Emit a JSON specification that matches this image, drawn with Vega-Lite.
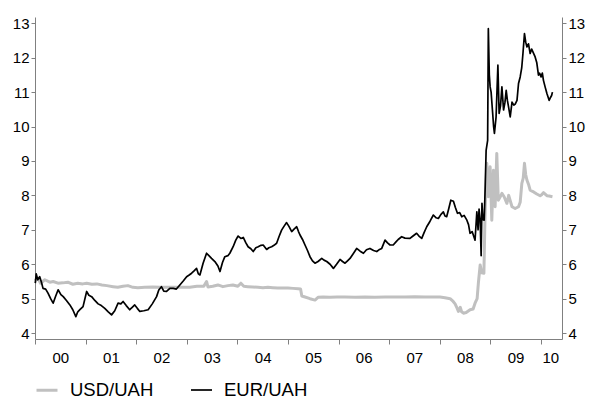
{
"$schema":"https://vega.github.io/schema/vega-lite/v6.json",
"width":527,"height":322,
"autosize":{"type":"none"},
"padding":{"left":35,"top":17,"right":31,"bottom":69},
"config":{"view":{"stroke":null},"font":"Liberation Sans"},
"data":{"values":[
{"d":"2000-01-03","s":"USD/UAH","v":5.52},{"d":"2000-01-21","s":"USD/UAH","v":5.6},{"d":"2000-02-10","s":"USD/UAH","v":5.45},{"d":"2000-03-12","s":"USD/UAH","v":5.55},{"d":"2000-04-17","s":"USD/UAH","v":5.48},{"d":"2000-05-11","s":"USD/UAH","v":5.5},{"d":"2000-06-15","s":"USD/UAH","v":5.45},{"d":"2000-07-20","s":"USD/UAH","v":5.46},{"d":"2000-08-25","s":"USD/UAH","v":5.48},{"d":"2000-09-30","s":"USD/UAH","v":5.42},{"d":"2000-11-05","s":"USD/UAH","v":5.45},{"d":"2000-12-11","s":"USD/UAH","v":5.43},
{"d":"2001-01-08","s":"USD/UAH","v":5.45},{"d":"2001-02-15","s":"USD/UAH","v":5.42},{"d":"2001-03-23","s":"USD/UAH","v":5.43},{"d":"2001-04-28","s":"USD/UAH","v":5.4},{"d":"2001-06-03","s":"USD/UAH","v":5.38},{"d":"2001-07-18","s":"USD/UAH","v":5.35},{"d":"2001-08-21","s":"USD/UAH","v":5.33},{"d":"2001-09-27","s":"USD/UAH","v":5.36},{"d":"2001-11-02","s":"USD/UAH","v":5.38},{"d":"2001-12-08","s":"USD/UAH","v":5.33},
{"d":"2002-01-13","s":"USD/UAH","v":5.32},{"d":"2002-03-04","s":"USD/UAH","v":5.33},{"d":"2002-05-01","s":"USD/UAH","v":5.34},{"d":"2002-06-20","s":"USD/UAH","v":5.33},{"d":"2002-08-10","s":"USD/UAH","v":5.33},{"d":"2002-10-07","s":"USD/UAH","v":5.33},{"d":"2002-12-03","s":"USD/UAH","v":5.33},
{"d":"2003-01-23","s":"USD/UAH","v":5.33},{"d":"2003-03-15","s":"USD/UAH","v":5.36},{"d":"2003-05-04","s":"USD/UAH","v":5.36},{"d":"2003-05-24","s":"USD/UAH","v":5.5},{"d":"2003-06-03","s":"USD/UAH","v":5.34},{"d":"2003-07-08","s":"USD/UAH","v":5.36},{"d":"2003-08-14","s":"USD/UAH","v":5.4},{"d":"2003-09-19","s":"USD/UAH","v":5.35},{"d":"2003-10-25","s":"USD/UAH","v":5.38},{"d":"2003-11-30","s":"USD/UAH","v":5.4},
{"d":"2004-01-05","s":"USD/UAH","v":5.36},{"d":"2004-01-27","s":"USD/UAH","v":5.45},{"d":"2004-02-17","s":"USD/UAH","v":5.36},{"d":"2004-03-17","s":"USD/UAH","v":5.35},{"d":"2004-04-22","s":"USD/UAH","v":5.34},{"d":"2004-05-29","s":"USD/UAH","v":5.33},{"d":"2004-07-04","s":"USD/UAH","v":5.32},{"d":"2004-08-09","s":"USD/UAH","v":5.33},{"d":"2004-09-14","s":"USD/UAH","v":5.32},{"d":"2004-10-20","s":"USD/UAH","v":5.31},{"d":"2004-11-25","s":"USD/UAH","v":5.31},
{"d":"2005-01-01","s":"USD/UAH","v":5.31},{"d":"2005-02-07","s":"USD/UAH","v":5.3},{"d":"2005-03-15","s":"USD/UAH","v":5.29},{"d":"2005-04-02","s":"USD/UAH","v":5.28},{"d":"2005-04-11","s":"USD/UAH","v":5.08},{"d":"2005-05-04","s":"USD/UAH","v":5.05},{"d":"2005-06-09","s":"USD/UAH","v":5.0},{"d":"2005-07-15","s":"USD/UAH","v":4.96},{"d":"2005-08-06","s":"USD/UAH","v":5.04},{"d":"2005-09-11","s":"USD/UAH","v":5.05},{"d":"2005-11-01","s":"USD/UAH","v":5.04},{"d":"2005-12-21","s":"USD/UAH","v":5.05},
{"d":"2006-02-17","s":"USD/UAH","v":5.05},{"d":"2006-04-30","s":"USD/UAH","v":5.04},{"d":"2006-07-11","s":"USD/UAH","v":5.05},{"d":"2006-09-21","s":"USD/UAH","v":5.04},{"d":"2006-12-03","s":"USD/UAH","v":5.05},
{"d":"2007-02-13","s":"USD/UAH","v":5.05},{"d":"2007-04-26","s":"USD/UAH","v":5.05},{"d":"2007-07-07","s":"USD/UAH","v":5.06},{"d":"2007-09-18","s":"USD/UAH","v":5.05},{"d":"2007-11-29","s":"USD/UAH","v":5.05},
{"d":"2008-01-04","s":"USD/UAH","v":5.05},{"d":"2008-02-09","s":"USD/UAH","v":5.03},{"d":"2008-03-17","s":"USD/UAH","v":5.0},{"d":"2008-04-08","s":"USD/UAH","v":4.92},{"d":"2008-04-22","s":"USD/UAH","v":4.85},{"d":"2008-05-07","s":"USD/UAH","v":4.72},{"d":"2008-05-16","s":"USD/UAH","v":4.63},{"d":"2008-05-29","s":"USD/UAH","v":4.75},{"d":"2008-06-08","s":"USD/UAH","v":4.62},{"d":"2008-06-21","s":"USD/UAH","v":4.58},{"d":"2008-07-11","s":"USD/UAH","v":4.6},{"d":"2008-08-08","s":"USD/UAH","v":4.68},{"d":"2008-08-30","s":"USD/UAH","v":4.7},{"d":"2008-09-13","s":"USD/UAH","v":4.87},{"d":"2008-09-28","s":"USD/UAH","v":5.0},{"d":"2008-10-07","s":"USD/UAH","v":5.45},{"d":"2008-10-20","s":"USD/UAH","v":5.98},{"d":"2008-10-31","s":"USD/UAH","v":5.75},{"d":"2008-11-16","s":"USD/UAH","v":5.74},{"d":"2008-11-22","s":"USD/UAH","v":7.0},{"d":"2008-11-25","s":"USD/UAH","v":7.57},{"d":"2008-12-07","s":"USD/UAH","v":8.93},{"d":"2008-12-18","s":"USD/UAH","v":7.96},{"d":"2008-12-31","s":"USD/UAH","v":8.83},
{"d":"2009-01-12","s":"USD/UAH","v":7.28},{"d":"2009-01-24","s":"USD/UAH","v":8.73},{"d":"2009-02-05","s":"USD/UAH","v":7.67},{"d":"2009-02-17","s":"USD/UAH","v":9.22},{"d":"2009-02-28","s":"USD/UAH","v":7.86},{"d":"2009-03-13","s":"USD/UAH","v":7.95},{"d":"2009-03-26","s":"USD/UAH","v":8.06},{"d":"2009-04-11","s":"USD/UAH","v":7.96},{"d":"2009-05-01","s":"USD/UAH","v":7.77},{"d":"2009-05-14","s":"USD/UAH","v":8.0},{"d":"2009-05-25","s":"USD/UAH","v":7.85},{"d":"2009-06-07","s":"USD/UAH","v":7.67},{"d":"2009-06-30","s":"USD/UAH","v":7.62},{"d":"2009-07-24","s":"USD/UAH","v":7.67},{"d":"2009-08-05","s":"USD/UAH","v":7.8},{"d":"2009-08-17","s":"USD/UAH","v":8.35},{"d":"2009-08-27","s":"USD/UAH","v":8.5},{"d":"2009-09-05","s":"USD/UAH","v":8.93},{"d":"2009-09-14","s":"USD/UAH","v":8.6},{"d":"2009-09-23","s":"USD/UAH","v":8.44},{"d":"2009-10-06","s":"USD/UAH","v":8.3},{"d":"2009-10-16","s":"USD/UAH","v":8.15},{"d":"2009-11-10","s":"USD/UAH","v":8.1},{"d":"2009-12-03","s":"USD/UAH","v":8.04},{"d":"2009-12-27","s":"USD/UAH","v":7.99},
{"d":"2010-01-07","s":"USD/UAH","v":8.02},{"d":"2010-01-20","s":"USD/UAH","v":8.08},{"d":"2010-02-14","s":"USD/UAH","v":7.99},{"d":"2010-03-02","s":"USD/UAH","v":7.98},{"d":"2010-03-26","s":"USD/UAH","v":7.96},
{"d":"2000-01-03","s":"EUR/UAH","v":5.45},{"d":"2000-01-10","s":"EUR/UAH","v":5.72},{"d":"2000-01-21","s":"EUR/UAH","v":5.55},{"d":"2000-02-04","s":"EUR/UAH","v":5.64},{"d":"2000-02-15","s":"EUR/UAH","v":5.5},{"d":"2000-02-28","s":"EUR/UAH","v":5.3},{"d":"2000-03-18","s":"EUR/UAH","v":5.28},{"d":"2000-04-04","s":"EUR/UAH","v":5.16},{"d":"2000-04-23","s":"EUR/UAH","v":5.0},{"d":"2000-05-11","s":"EUR/UAH","v":4.87},{"d":"2000-05-27","s":"EUR/UAH","v":5.05},{"d":"2000-06-16","s":"EUR/UAH","v":5.26},{"d":"2000-07-06","s":"EUR/UAH","v":5.12},{"d":"2000-07-23","s":"EUR/UAH","v":5.06},{"d":"2000-08-15","s":"EUR/UAH","v":4.95},{"d":"2000-09-09","s":"EUR/UAH","v":4.82},{"d":"2000-09-30","s":"EUR/UAH","v":4.68},{"d":"2000-10-22","s":"EUR/UAH","v":4.48},{"d":"2000-11-05","s":"EUR/UAH","v":4.62},{"d":"2000-11-20","s":"EUR/UAH","v":4.68},{"d":"2000-12-13","s":"EUR/UAH","v":4.77},
{"d":"2001-01-08","s":"EUR/UAH","v":5.21},{"d":"2001-01-24","s":"EUR/UAH","v":5.1},{"d":"2001-02-13","s":"EUR/UAH","v":5.06},{"d":"2001-03-08","s":"EUR/UAH","v":4.95},{"d":"2001-04-01","s":"EUR/UAH","v":4.85},{"d":"2001-04-24","s":"EUR/UAH","v":4.8},{"d":"2001-05-19","s":"EUR/UAH","v":4.72},{"d":"2001-06-13","s":"EUR/UAH","v":4.62},{"d":"2001-07-07","s":"EUR/UAH","v":4.53},{"d":"2001-07-30","s":"EUR/UAH","v":4.65},{"d":"2001-08-23","s":"EUR/UAH","v":4.87},{"d":"2001-09-12","s":"EUR/UAH","v":4.85},{"d":"2001-09-28","s":"EUR/UAH","v":4.92},{"d":"2001-10-21","s":"EUR/UAH","v":4.8},{"d":"2001-11-15","s":"EUR/UAH","v":4.68},{"d":"2001-12-03","s":"EUR/UAH","v":4.75},{"d":"2001-12-21","s":"EUR/UAH","v":4.82},
{"d":"2002-01-09","s":"EUR/UAH","v":4.72},{"d":"2002-01-27","s":"EUR/UAH","v":4.63},{"d":"2002-02-25","s":"EUR/UAH","v":4.65},{"d":"2002-03-28","s":"EUR/UAH","v":4.68},{"d":"2002-04-27","s":"EUR/UAH","v":4.85},{"d":"2002-05-28","s":"EUR/UAH","v":5.06},{"d":"2002-06-13","s":"EUR/UAH","v":5.25},{"d":"2002-07-02","s":"EUR/UAH","v":5.35},{"d":"2002-07-19","s":"EUR/UAH","v":5.22},{"d":"2002-08-08","s":"EUR/UAH","v":5.21},{"d":"2002-09-01","s":"EUR/UAH","v":5.3},{"d":"2002-09-25","s":"EUR/UAH","v":5.3},{"d":"2002-10-18","s":"EUR/UAH","v":5.28},{"d":"2002-11-12","s":"EUR/UAH","v":5.4},{"d":"2002-12-08","s":"EUR/UAH","v":5.52},{"d":"2002-12-31","s":"EUR/UAH","v":5.64},
{"d":"2003-01-16","s":"EUR/UAH","v":5.68},{"d":"2003-02-05","s":"EUR/UAH","v":5.74},{"d":"2003-02-21","s":"EUR/UAH","v":5.8},{"d":"2003-03-13","s":"EUR/UAH","v":5.88},{"d":"2003-03-26","s":"EUR/UAH","v":5.72},{"d":"2003-04-06","s":"EUR/UAH","v":5.69},{"d":"2003-04-29","s":"EUR/UAH","v":6.03},{"d":"2003-05-24","s":"EUR/UAH","v":6.32},{"d":"2003-06-10","s":"EUR/UAH","v":6.25},{"d":"2003-06-29","s":"EUR/UAH","v":6.17},{"d":"2003-07-23","s":"EUR/UAH","v":6.08},{"d":"2003-08-14","s":"EUR/UAH","v":5.95},{"d":"2003-08-29","s":"EUR/UAH","v":5.79},{"d":"2003-09-16","s":"EUR/UAH","v":6.05},{"d":"2003-10-03","s":"EUR/UAH","v":6.22},{"d":"2003-10-25","s":"EUR/UAH","v":6.25},{"d":"2003-11-08","s":"EUR/UAH","v":6.32},{"d":"2003-12-02","s":"EUR/UAH","v":6.51},{"d":"2003-12-21","s":"EUR/UAH","v":6.7},
{"d":"2004-01-07","s":"EUR/UAH","v":6.82},{"d":"2004-01-27","s":"EUR/UAH","v":6.75},{"d":"2004-02-13","s":"EUR/UAH","v":6.78},{"d":"2004-03-03","s":"EUR/UAH","v":6.62},{"d":"2004-03-19","s":"EUR/UAH","v":6.51},{"d":"2004-04-08","s":"EUR/UAH","v":6.45},{"d":"2004-04-25","s":"EUR/UAH","v":6.37},{"d":"2004-05-14","s":"EUR/UAH","v":6.48},{"d":"2004-05-31","s":"EUR/UAH","v":6.51},{"d":"2004-06-20","s":"EUR/UAH","v":6.55},{"d":"2004-07-06","s":"EUR/UAH","v":6.56},{"d":"2004-07-31","s":"EUR/UAH","v":6.43},{"d":"2004-08-16","s":"EUR/UAH","v":6.48},{"d":"2004-09-05","s":"EUR/UAH","v":6.51},{"d":"2004-09-22","s":"EUR/UAH","v":6.55},{"d":"2004-10-11","s":"EUR/UAH","v":6.61},{"d":"2004-10-28","s":"EUR/UAH","v":6.8},{"d":"2004-11-16","s":"EUR/UAH","v":6.99},{"d":"2004-12-03","s":"EUR/UAH","v":7.1},{"d":"2004-12-22","s":"EUR/UAH","v":7.21},
{"d":"2005-01-08","s":"EUR/UAH","v":7.1},{"d":"2005-01-28","s":"EUR/UAH","v":6.95},{"d":"2005-02-14","s":"EUR/UAH","v":7.02},{"d":"2005-03-05","s":"EUR/UAH","v":7.09},{"d":"2005-03-18","s":"EUR/UAH","v":6.95},{"d":"2005-03-29","s":"EUR/UAH","v":6.85},{"d":"2005-04-16","s":"EUR/UAH","v":6.72},{"d":"2005-05-04","s":"EUR/UAH","v":6.56},{"d":"2005-05-22","s":"EUR/UAH","v":6.4},{"d":"2005-06-09","s":"EUR/UAH","v":6.22},{"d":"2005-06-27","s":"EUR/UAH","v":6.1},{"d":"2005-07-15","s":"EUR/UAH","v":6.03},{"d":"2005-08-06","s":"EUR/UAH","v":6.08},{"d":"2005-09-02","s":"EUR/UAH","v":6.17},{"d":"2005-09-18","s":"EUR/UAH","v":6.12},{"d":"2005-10-08","s":"EUR/UAH","v":6.08},{"d":"2005-11-01","s":"EUR/UAH","v":6.0},{"d":"2005-11-25","s":"EUR/UAH","v":5.88},{"d":"2005-12-18","s":"EUR/UAH","v":6.0},
{"d":"2006-01-12","s":"EUR/UAH","v":6.14},{"d":"2006-01-30","s":"EUR/UAH","v":6.08},{"d":"2006-02-17","s":"EUR/UAH","v":6.03},{"d":"2006-03-07","s":"EUR/UAH","v":6.1},{"d":"2006-03-25","s":"EUR/UAH","v":6.17},{"d":"2006-04-16","s":"EUR/UAH","v":6.3},{"d":"2006-05-12","s":"EUR/UAH","v":6.46},{"d":"2006-06-06","s":"EUR/UAH","v":6.38},{"d":"2006-06-30","s":"EUR/UAH","v":6.32},{"d":"2006-07-22","s":"EUR/UAH","v":6.42},{"d":"2006-08-16","s":"EUR/UAH","v":6.46},{"d":"2006-09-11","s":"EUR/UAH","v":6.4},{"d":"2006-10-04","s":"EUR/UAH","v":6.37},{"d":"2006-10-20","s":"EUR/UAH","v":6.42},{"d":"2006-11-09","s":"EUR/UAH","v":6.46},{"d":"2006-12-03","s":"EUR/UAH","v":6.7},{"d":"2006-12-21","s":"EUR/UAH","v":6.62},
{"d":"2007-01-08","s":"EUR/UAH","v":6.56},{"d":"2007-01-31","s":"EUR/UAH","v":6.56},{"d":"2007-02-20","s":"EUR/UAH","v":6.65},{"d":"2007-03-08","s":"EUR/UAH","v":6.72},{"d":"2007-04-02","s":"EUR/UAH","v":6.8},{"d":"2007-04-26","s":"EUR/UAH","v":6.76},{"d":"2007-06-01","s":"EUR/UAH","v":6.75},{"d":"2007-06-23","s":"EUR/UAH","v":6.82},{"d":"2007-07-19","s":"EUR/UAH","v":6.9},{"d":"2007-08-05","s":"EUR/UAH","v":6.82},{"d":"2007-08-25","s":"EUR/UAH","v":6.75},{"d":"2007-09-11","s":"EUR/UAH","v":6.92},{"d":"2007-09-30","s":"EUR/UAH","v":7.09},{"d":"2007-10-24","s":"EUR/UAH","v":7.25},{"d":"2007-11-17","s":"EUR/UAH","v":7.43},{"d":"2007-12-07","s":"EUR/UAH","v":7.35},{"d":"2007-12-23","s":"EUR/UAH","v":7.33},
{"d":"2008-01-11","s":"EUR/UAH","v":7.45},{"d":"2008-01-28","s":"EUR/UAH","v":7.52},{"d":"2008-02-09","s":"EUR/UAH","v":7.4},{"d":"2008-02-21","s":"EUR/UAH","v":7.38},{"d":"2008-03-06","s":"EUR/UAH","v":7.6},{"d":"2008-03-22","s":"EUR/UAH","v":7.86},{"d":"2008-04-10","s":"EUR/UAH","v":7.83},{"d":"2008-04-24","s":"EUR/UAH","v":7.65},{"d":"2008-05-09","s":"EUR/UAH","v":7.48},{"d":"2008-05-25","s":"EUR/UAH","v":7.5},{"d":"2008-06-09","s":"EUR/UAH","v":7.38},{"d":"2008-06-26","s":"EUR/UAH","v":7.42},{"d":"2008-07-16","s":"EUR/UAH","v":7.28},{"d":"2008-07-28","s":"EUR/UAH","v":7.15},{"d":"2008-08-08","s":"EUR/UAH","v":6.9},{"d":"2008-08-23","s":"EUR/UAH","v":6.95},{"d":"2008-09-13","s":"EUR/UAH","v":6.7},{"d":"2008-09-26","s":"EUR/UAH","v":7.52},{"d":"2008-10-05","s":"EUR/UAH","v":7.0},{"d":"2008-10-12","s":"EUR/UAH","v":7.6},{"d":"2008-10-20","s":"EUR/UAH","v":7.28},{"d":"2008-10-27","s":"EUR/UAH","v":6.25},{"d":"2008-11-02","s":"EUR/UAH","v":7.77},{"d":"2008-11-09","s":"EUR/UAH","v":7.3},{"d":"2008-11-18","s":"EUR/UAH","v":7.28},{"d":"2008-11-25","s":"EUR/UAH","v":8.2},{"d":"2008-12-02","s":"EUR/UAH","v":9.31},{"d":"2008-12-13","s":"EUR/UAH","v":9.6},{"d":"2008-12-18","s":"EUR/UAH","v":12.84},{"d":"2008-12-25","s":"EUR/UAH","v":11.5},{"d":"2008-12-31","s":"EUR/UAH","v":11.15},
{"d":"2009-01-07","s":"EUR/UAH","v":11.0},{"d":"2009-01-18","s":"EUR/UAH","v":10.4},{"d":"2009-01-25","s":"EUR/UAH","v":10.0},{"d":"2009-01-31","s":"EUR/UAH","v":9.8},{"d":"2009-02-12","s":"EUR/UAH","v":10.28},{"d":"2009-02-25","s":"EUR/UAH","v":11.78},{"d":"2009-03-06","s":"EUR/UAH","v":10.38},{"d":"2009-03-16","s":"EUR/UAH","v":10.6},{"d":"2009-03-26","s":"EUR/UAH","v":11.15},{"d":"2009-04-07","s":"EUR/UAH","v":10.48},{"d":"2009-04-17","s":"EUR/UAH","v":10.7},{"d":"2009-04-26","s":"EUR/UAH","v":11.05},{"d":"2009-05-05","s":"EUR/UAH","v":10.75},{"d":"2009-05-13","s":"EUR/UAH","v":10.57},{"d":"2009-05-25","s":"EUR/UAH","v":10.28},{"d":"2009-06-07","s":"EUR/UAH","v":10.71},{"d":"2009-06-20","s":"EUR/UAH","v":10.62},{"d":"2009-06-30","s":"EUR/UAH","v":10.65},{"d":"2009-07-13","s":"EUR/UAH","v":10.76},{"d":"2009-07-24","s":"EUR/UAH","v":11.25},{"d":"2009-08-05","s":"EUR/UAH","v":11.44},{"d":"2009-08-16","s":"EUR/UAH","v":11.7},{"d":"2009-08-25","s":"EUR/UAH","v":12.12},{"d":"2009-09-05","s":"EUR/UAH","v":12.7},{"d":"2009-09-14","s":"EUR/UAH","v":12.45},{"d":"2009-09-23","s":"EUR/UAH","v":12.31},{"d":"2009-10-04","s":"EUR/UAH","v":12.4},{"d":"2009-10-16","s":"EUR/UAH","v":12.12},{"d":"2009-10-27","s":"EUR/UAH","v":12.25},{"d":"2009-11-05","s":"EUR/UAH","v":12.17},{"d":"2009-11-21","s":"EUR/UAH","v":12.02},{"d":"2009-12-03","s":"EUR/UAH","v":11.85},{"d":"2009-12-15","s":"EUR/UAH","v":11.49},{"d":"2009-12-23","s":"EUR/UAH","v":11.55},
{"d":"2010-01-03","s":"EUR/UAH","v":11.44},{"d":"2010-01-12","s":"EUR/UAH","v":11.55},{"d":"2010-01-20","s":"EUR/UAH","v":11.34},{"d":"2010-02-01","s":"EUR/UAH","v":11.15},{"d":"2010-02-14","s":"EUR/UAH","v":10.96},{"d":"2010-02-23","s":"EUR/UAH","v":10.85},{"d":"2010-03-02","s":"EUR/UAH","v":10.76},{"d":"2010-03-13","s":"EUR/UAH","v":10.85},{"d":"2010-03-20","s":"EUR/UAH","v":10.9},{"d":"2010-03-26","s":"EUR/UAH","v":11.0}
]},
"encoding":{
"x":{"field":"d","type":"temporal","scale":{"type":"utc","domain":[{"year":2000,"month":1,"date":1,"utc":true},{"year":2010,"month":6,"date":3,"utc":true}]}},
"y":{"field":"v","type":"quantitative","scale":{"domain":[3.83,13.18],"nice":false,"zero":false}}
},
"layer":[
{"transform":[{"filter":"datum.s==='USD/UAH'"}],
 "mark":{"type":"line","strokeJoin":"round"},
 "encoding":{
  "x":{"field":"d","type":"temporal","axis":{"orient":"bottom","values":[{"year":2000,"month":1,"date":1,"utc":true},{"year":2001,"month":1,"date":1,"utc":true},{"year":2002,"month":1,"date":1,"utc":true},{"year":2003,"month":1,"date":1,"utc":true},{"year":2004,"month":1,"date":1,"utc":true},{"year":2005,"month":1,"date":1,"utc":true},{"year":2006,"month":1,"date":1,"utc":true},{"year":2007,"month":1,"date":1,"utc":true},{"year":2008,"month":1,"date":1,"utc":true},{"year":2009,"month":1,"date":1,"utc":true},{"year":2010,"month":1,"date":1,"utc":true}],"labels":false,"title":null,"grid":false,"domainColor":"#808080","tickColor":"#808080","tickSize":5}},
  "y":{"field":"v","type":"quantitative","axis":{"orient":"left","values":[4,5,6,7,8,9,10,11,12,13],"title":null,"grid":false,"domainColor":"#808080","tickColor":"#808080","tickSize":4,"labelPadding":2,"labelFontSize":15,"labelColor":"#000"}},
  "color":{"field":"s","type":"nominal","scale":{"domain":["USD/UAH","EUR/UAH"],"range":["#c0c0c0","#000000"]},"legend":{"title":null,"orient":"none","legendX":0,"legendY":361,"direction":"horizontal","symbolType":"stroke","symbolSize":441,"labelFontSize":18.5,"labelColor":"#000","labelOffset":11,"columnPadding":33,"padding":0}},
  "strokeWidth":{"field":"s","type":"nominal","scale":{"domain":["USD/UAH","EUR/UAH"],"range":[3,1.7]},"legend":{"title":null,"orient":"none","legendX":0,"legendY":361,"direction":"horizontal","symbolType":"stroke","symbolSize":441,"labelFontSize":18.5,"labelColor":"#000","labelOffset":11,"columnPadding":33,"padding":0}}
 }},
{"transform":[{"filter":"datum.s==='EUR/UAH'"}],
 "mark":{"type":"line","strokeJoin":"round"},
 "encoding":{
  "x":{"field":"d","type":"temporal","axis":null},
  "y":{"field":"v","type":"quantitative","axis":null},
  "color":{"field":"s","type":"nominal"},
  "strokeWidth":{"field":"s","type":"nominal"}
 }},
{"mark":{"type":"point","opacity":0,"size":1},
 "encoding":{
  "x":{"field":"d","type":"temporal","axis":{"orient":"bottom","values":[{"year":2000,"month":7,"date":2,"utc":true},{"year":2001,"month":7,"date":2,"utc":true},{"year":2002,"month":7,"date":2,"utc":true},{"year":2003,"month":7,"date":2,"utc":true},{"year":2004,"month":7,"date":2,"utc":true},{"year":2005,"month":7,"date":2,"utc":true},{"year":2006,"month":7,"date":2,"utc":true},{"year":2007,"month":7,"date":2,"utc":true},{"year":2008,"month":7,"date":2,"utc":true},{"year":2009,"month":7,"date":2,"utc":true},{"year":2010,"month":3,"date":10,"utc":true}],"labelExpr":"utcFormat(datum.value, '%y')","ticks":false,"domain":false,"title":null,"grid":false,"labelPadding":11,"labelFontSize":15,"labelColor":"#000","labelFlush":false,"labelOverlap":false}},
  "y":{"field":"v","type":"quantitative","axis":{"orient":"right","values":[4,5,6,7,8,9,10,11,12,13],"title":null,"grid":false,"domainColor":"#808080","tickColor":"#808080","tickSize":4,"labelPadding":2,"labelFontSize":15,"labelColor":"#000"}}
 }}
],
"resolve":{"axis":{"x":"independent","y":"independent"}}
}
